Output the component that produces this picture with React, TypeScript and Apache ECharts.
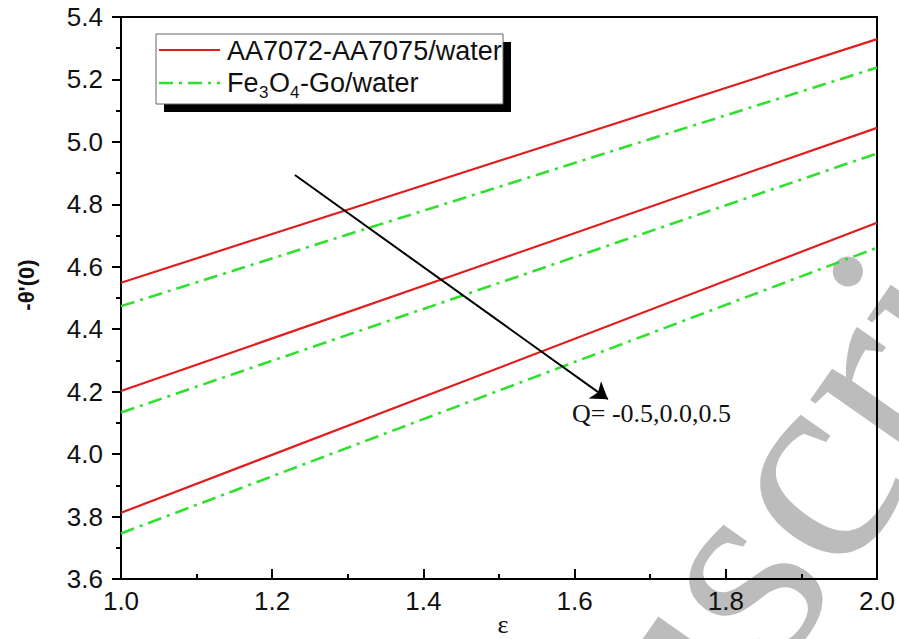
import React, { useEffect, useRef } from "react";
import * as echarts from "echarts";

// epsilon values (x)
const epsValues = [1.0, 2.0];
// -theta'(0) for AA7072-AA7075/water (red), Q = -0.5, 0.0, 0.5
const redQm05 = [4.549, 5.329];
const redQ00 = [4.202, 5.045];
const redQp05 = [3.812, 4.741];
// -theta'(0) for Fe3O4-Go/water (green), Q = -0.5, 0.0, 0.5
const greenQm05 = [4.474, 5.238];
const greenQ00 = [4.133, 4.963];
const greenQp05 = [3.746, 4.661];

const yTicks = [3.6, 3.8, 4.0, 4.2, 4.4, 4.6, 4.8, 5.0, 5.2, 5.4];
const xTicks = [1.0, 1.2, 1.4, 1.6, 1.8, 2.0];

// arrow annotation in data coordinates
const arrowStart = [1.23, 4.894];
const arrowEnd = [1.644, 4.176];

const RED = "#e01e1e";
const GREEN = "#2fe02f";
const DASHDOT = [14, 6, 3, 6];

const pairs = (ys: number[]) => epsValues.map((x, i) => [x, ys[i]]);

export default function App() {
  const ref = useRef<HTMLDivElement>(null);
  useEffect(() => {
    if (!ref.current) return;
    const chart = echarts.init(ref.current, undefined, { renderer: "svg" });
    const redSeries = [redQm05, redQ00, redQp05].map((d) => ({
      type: "line",
      name: "AA7072-AA7075/water",
      data: pairs(d),
      showSymbol: false,
      symbol: "none",
      lineStyle: { color: RED, width: 2.2 },
      itemStyle: { color: RED },
      z: 3,
    }));
    const greenSeries = [greenQm05, greenQ00, greenQp05].map((d) => ({
      type: "line",
      name: "Fe3O4-Go/water",
      data: pairs(d),
      showSymbol: false,
      symbol: "none",
      lineStyle: { color: GREEN, width: 2.6, type: DASHDOT },
      itemStyle: { color: GREEN },
      z: 3,
    }));
    const arrowSeries = {
      type: "line",
      data: [],
      markLine: {
        silent: true,
        symbol: ["none", "arrow"],
        symbolSize: 16,
        label: { show: false },
        lineStyle: { color: "#000", width: 2, type: "solid" },
        data: [[{ coord: arrowStart }, { coord: arrowEnd }]],
      },
      z: 4,
    };
    const font = "Liberation Sans, Arial, sans-serif";
    const serif = "Liberation Serif, Times New Roman, serif";
    const lgText = (x: number, y: number, text: string, size: number) => ({
      type: "text",
      x,
      y,
      z: 20,
      style: {
        text,
        fill: "#111",
        font: `${size}px ${font}`,
        fontSize: size,
        fontFamily: font,
        textAlign: "left",
        align: "left",
        textVerticalAlign: "middle",
        verticalAlign: "middle",
      },
    });
    const option: any = {
      animation: false,
      backgroundColor: "#fff",
      grid: {
        left: 121,
        right: 22,
        top: 17,
        bottom: 60,
        show: true,
        borderColor: "#000",
        borderWidth: 2,
        backgroundColor: "transparent",
      },
      xAxis: {
        type: "value",
        min: 1.0,
        max: 2.0,
        interval: 0.2,
        axisLine: { show: true, onZero: false, lineStyle: { color: "#000", width: 2 } },
        axisTick: { show: true, inside: true, length: 10, lineStyle: { color: "#000", width: 2 } },
        minorTick: { show: true, splitNumber: 2, length: 5, lineStyle: { color: "#000", width: 2 } },
        splitLine: { show: false },
        minorSplitLine: { show: false },
        axisLabel: {
          color: "#111",
          fontSize: 26,
          fontFamily: font,
          margin: 9,
          formatter: (v: number) => {
            const m = xTicks.find((t) => Math.abs(t - v) < 1e-6);
            return (m ?? v).toFixed(1);
          },
          showMinLabel: true,
          showMaxLabel: true,
        },
      },
      yAxis: {
        type: "value",
        min: 3.6,
        max: 5.4,
        interval: 0.2,
        axisLine: { show: true, onZero: false, lineStyle: { color: "#000", width: 2 } },
        axisTick: { show: true, inside: false, length: 9, lineStyle: { color: "#000", width: 2 } },
        minorTick: { show: true, splitNumber: 2, length: 5, lineStyle: { color: "#000", width: 2 } },
        splitLine: { show: false },
        minorSplitLine: { show: false },
        axisLabel: {
          color: "#111",
          fontSize: 26,
          fontFamily: font,
          margin: 18,
          formatter: (v: number) => {
            const m = yTicks.find((t) => Math.abs(t - v) < 1e-6);
            return (m ?? v).toFixed(1);
          },
          showMinLabel: true,
          showMaxLabel: true,
        },
      },
      series: [...redSeries, ...greenSeries, arrowSeries],
      graphic: [
        // watermark
        {
          type: "text",
          x: 690,
          y: 632,
          rotation: (55 * Math.PI) / 180,
          z: -5,
          silent: true,
          style: {
            text: "Manuscript",
            fill: "#bcbcbc",
            font: `285px ${serif}`,
            fontSize: 285,
            fontFamily: serif,
            textAlign: "center",
            align: "center",
            textVerticalAlign: "middle",
            verticalAlign: "middle",
          },
        },
        // legend shadow + box
        { type: "rect", z: 18, shape: { x: 164, y: 42, width: 347, height: 70 }, style: { fill: "#000" } },
        {
          type: "rect",
          z: 19,
          shape: { x: 156, y: 34, width: 347, height: 70 },
          style: { fill: "#fff", stroke: "#666", lineWidth: 1 },
        },
        { type: "line", z: 20, shape: { x1: 159, y1: 50, x2: 220, y2: 50 }, style: { stroke: RED, lineWidth: 2.2 } },
        {
          type: "line",
          z: 20,
          shape: { x1: 159, y1: 83, x2: 220, y2: 83 },
          style: { stroke: GREEN, lineWidth: 2.6, lineDash: DASHDOT },
        },
        lgText(227, 51, "AA7072-AA7075/water", 27),
        lgText(227, 83, "Fe", 27),
        lgText(259, 92, "3", 17),
        lgText(269, 83, "O", 27),
        lgText(290, 92, "4", 17),
        lgText(300, 83, "-Go/water", 27),
        // annotation text
        {
          type: "text",
          x: 572,
          y: 413,
          z: 10,
          style: {
            text: "Q= -0.5,0.0,0.5",
            fill: "#111",
            font: `26px ${serif}`,
            fontSize: 26,
            fontFamily: serif,
            textAlign: "left",
            align: "left",
            textVerticalAlign: "middle",
            verticalAlign: "middle",
          },
        },
        // y-axis title
        {
          type: "text",
          x: 26,
          y: 285,
          rotation: Math.PI / 2,
          z: 10,
          style: {
            text: "-θ'(0)",
            fill: "#111",
            font: `bold 22px ${font}`,
            fontSize: 22,
            fontWeight: "bold",
            fontFamily: font,
            textAlign: "center",
            align: "center",
            textVerticalAlign: "middle",
            verticalAlign: "middle",
          },
        },
        // x-axis title
        {
          type: "text",
          x: 503,
          y: 624,
          z: 10,
          style: {
            text: "ε",
            fill: "#111",
            font: `26px ${serif}`,
            fontSize: 26,
            fontFamily: serif,
            textAlign: "center",
            align: "center",
            textVerticalAlign: "middle",
            verticalAlign: "middle",
          },
        },
      ],
    };
    chart.setOption(option);
    return () => chart.dispose();
  }, []);
  return <div ref={ref} style={{ width: 899, height: 639, position: "absolute", left: 0, top: 0 }} />;
}
